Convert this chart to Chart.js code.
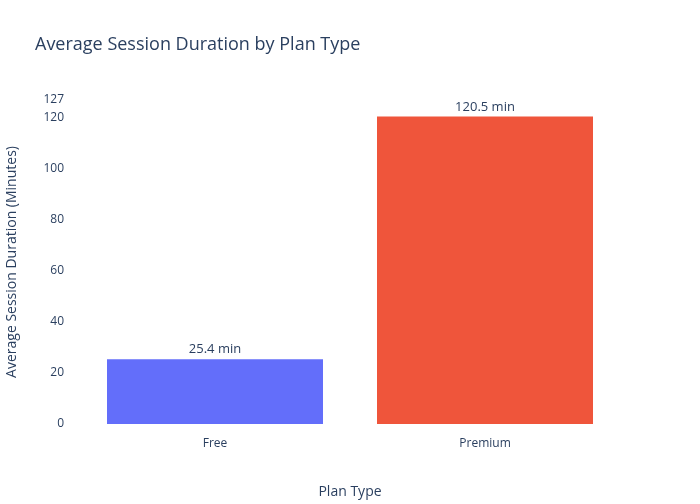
<!DOCTYPE html>
<html><head><script src="https://cdn.jsdelivr.net/npm/chart.js"></script>
<style>body{margin:0;background:#fff}#w{width:700px;height:504px}</style></head>
<body><div id="w"><canvas id="c"></canvas></div>
<script>
const categories=["Free","Premium"];
const values=[25.4,120.5];
const valueLabels=["25.4 min","120.5 min"];
const colors=["#636efa","#ef553b"];
const F="'Open Sans', sans-serif", C="#2a3f5f";
const labelPlugin={id:"lp",afterDatasetsDraw(ch){const ctx=ch.ctx;const m=ch.getDatasetMeta(0);ctx.save();ctx.font="13px "+F;ctx.fillStyle=C;ctx.textAlign="center";ctx.textBaseline="bottom";m.data.forEach((b,i)=>ctx.fillText(valueLabels[i],b.x,b.y-3));
ctx.font="18px "+F;ctx.textAlign="left";ctx.textBaseline="middle";ctx.fillText("Average Session Duration by Plan Type",35,45);ctx.restore();}};
new Chart(document.getElementById("c"),{type:"bar",data:{labels:categories,datasets:[{data:values,backgroundColor:colors,categoryPercentage:1,barPercentage:0.8}]},
options:{responsive:true,maintainAspectRatio:false,animation:false,layout:{padding:{top:100,right:80,left:0,bottom:0}},
plugins:{legend:{display:false},tooltip:{enabled:false}},
scales:{x:{grid:{display:false},border:{display:false},ticks:{color:C,font:{family:F,size:12},padding:4},title:{display:true,text:"Plan Type",color:C,font:{family:F,size:14},padding:{top:12}},afterFit(s){s.height=80;}},
y:{min:0,max:127,grid:{display:false},border:{display:false},ticks:{stepSize:20,color:C,font:{family:F,size:12},padding:8},title:{display:true,text:"Average Session Duration (Minutes)",color:C,font:{family:F,size:14},padding:{bottom:8}},afterFit(s){s.width=80;}}}},
plugins:[labelPlugin]});
</script></body></html>
